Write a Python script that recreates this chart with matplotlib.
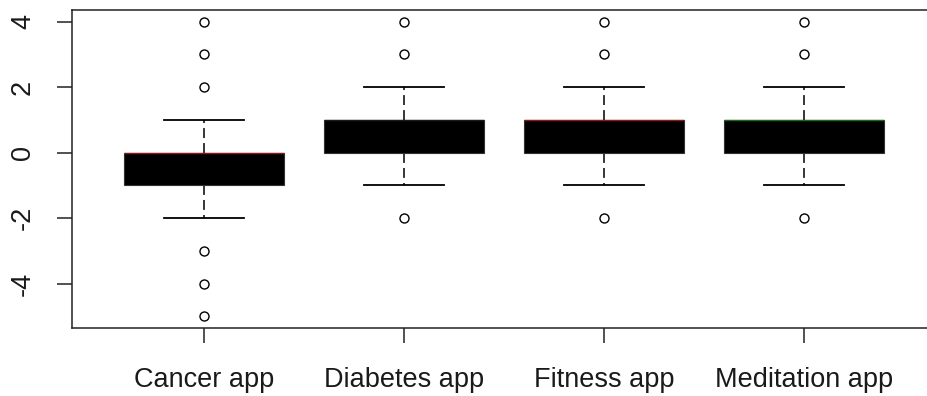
import matplotlib
matplotlib.use("Agg")
import matplotlib.pyplot as plt

categories = ["Cancer app", "Diabetes app", "Fitness app", "Meditation app"]
q1 = [-1, 0, 0, 0]
q3 = [0, 1, 1, 1]
medians = [0, 1, 1, 1]
whisker_low = [-2, -1, -1, -1]
whisker_high = [1, 2, 2, 2]
fliers = [[2, 3, 4, -3, -4, -5], [-2, 3, 4], [-2, 3, 4], [-2, 3, 4]]
median_colors = ["#8b1a1a", "#1a1a1a", "#8b1a1a", "#1a6b1a"]
y_ticks = [-4, -2, 0, 2, 4]

plt.rcParams['font.family'] = ['Liberation Sans', 'DejaVu Sans']

fig = plt.figure(figsize=(9.28, 3.96), dpi=100)
W, H = 928, 396
left, right, top, bottom = 72, 936, 10, 328
ax = fig.add_axes([left / W, (H - bottom) / H, (right - left) / W, (bottom - top) / H])

stats = []
for i, c in enumerate(categories):
    stats.append(dict(label=c, med=medians[i], q1=q1[i], q3=q3[i],
                      whislo=whisker_low[i], whishi=whisker_high[i], fliers=fliers[i]))

positions = list(range(1, len(categories) + 1))
bp = ax.bxp(stats, positions=positions, widths=0.8, patch_artist=True,
            boxprops=dict(facecolor="black", edgecolor="#333333", linewidth=0.8),
            whiskerprops=dict(color="black", linestyle=(0, (6.5, 3.3)), linewidth=1.1),
            capprops=dict(color="black", linewidth=1.3),
            capwidths=0.4,
            flierprops=dict(marker="o", markerfacecolor="none", markeredgecolor="black",
                            markersize=6.5, markeredgewidth=1.0),
            medianprops=dict(linewidth=1.0))
for line, col in zip(bp["medians"], median_colors):
    line.set_color(col)
for w in bp["whiskers"]:
    w.set_zorder(1)

ax.set_xlim(0.34, 4.66)
ax.set_ylim(-5.36, 4.36)
ax.set_yticks(y_ticks)
ax.set_yticklabels([str(v) for v in y_ticks], rotation=90, va="center")
ax.set_xticks(positions)
ax.set_xticklabels(categories)
ax.tick_params(axis="both", length=11, width=1.1, color="#222222", labelsize=19.5,
               labelcolor="#1a1a1a")
ax.tick_params(axis="x", pad=17)
ax.tick_params(axis="y", pad=15)
for s in ax.spines.values():
    s.set_linewidth(1.1)
    s.set_color("#222222")
ax.spines["right"].set_visible(False)

fig.savefig("out.png", dpi=100)
